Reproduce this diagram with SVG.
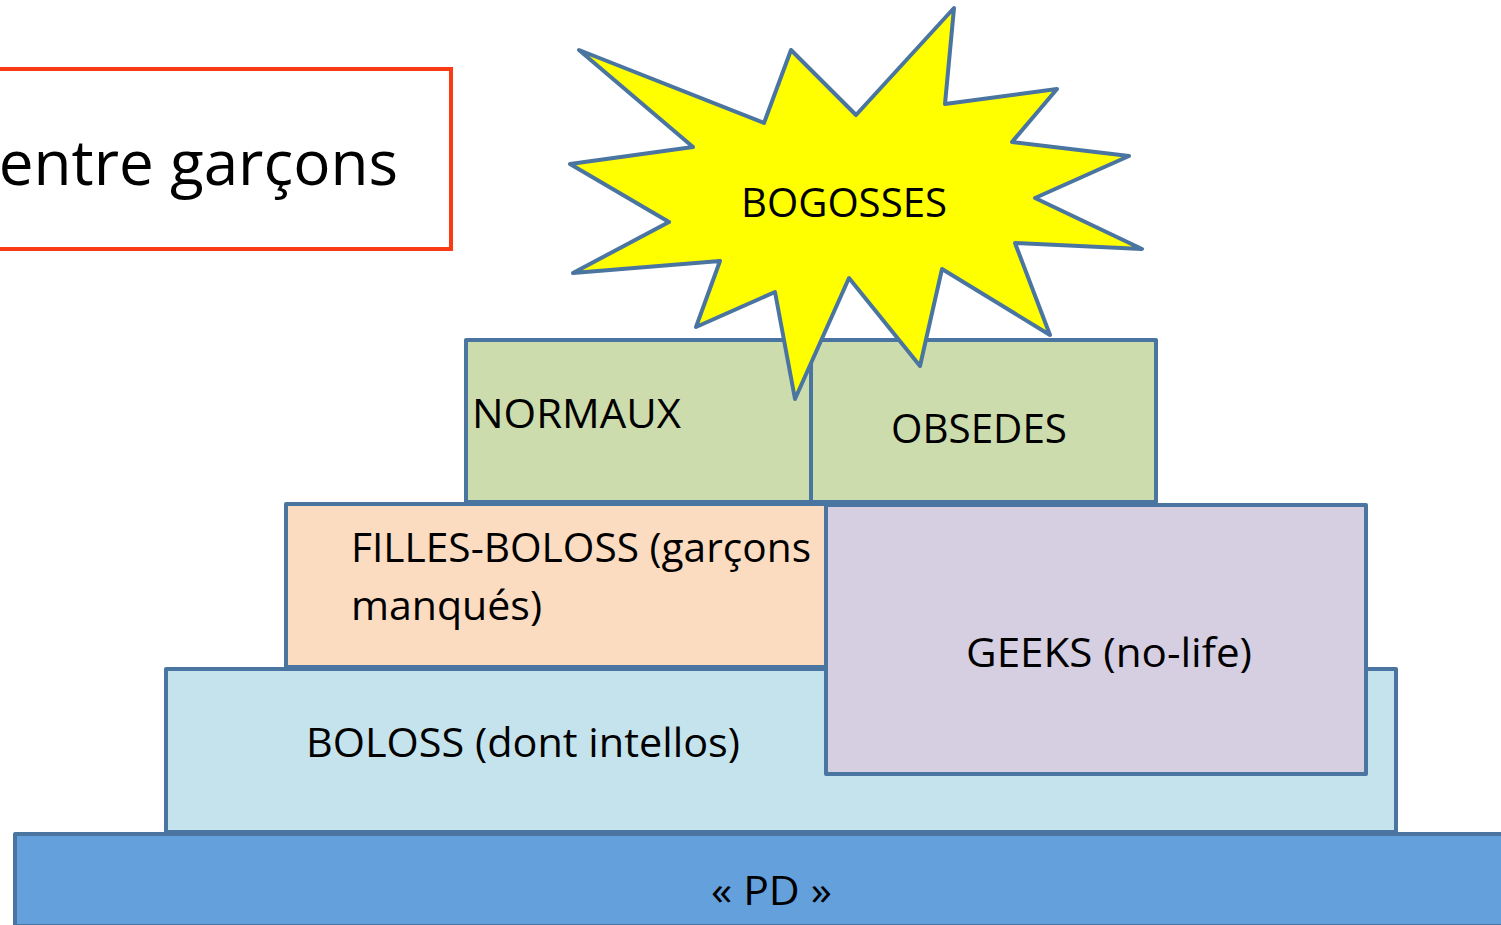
<svg xmlns="http://www.w3.org/2000/svg" width="1501" height="925" viewBox="0 0 1501 925">
<style>
.box{stroke:#4A75A0;stroke-width:4;stroke-linejoin:round}
.t{font-family:"Open Sans","Noto Sans",sans-serif;font-size:40px;fill:#000}
</style>
<rect width="1501" height="925" fill="#fff"/>
<g id="title">
<rect x="-10" y="69" width="461" height="180" fill="#fff" stroke="#FA3A14" stroke-width="4"/>
<text class="t" x="398" y="185" text-anchor="end" style="font-size:62px">entre garçons</text>
</g>
<g id="pd">
<rect class="box" x="15" y="834" width="1500" height="92" fill="#64A0DC"/>
<text class="t" x="711" y="905" textLength="121" lengthAdjust="spacingAndGlyphs">« PD »</text>
</g>
<g id="boloss">
<rect class="box" x="166" y="669" width="1230" height="163" fill="#C4E3EC"/>
<text class="t" x="306" y="757" textLength="434" lengthAdjust="spacingAndGlyphs">BOLOSS (dont intellos)</text>
</g>
<g id="filles">
<rect class="box" x="286" y="504" width="540" height="163" fill="#FBDCC0"/>
<text class="t" x="351" y="562" textLength="460" lengthAdjust="spacingAndGlyphs">FILLES-BOLOSS (garçons</text>
<text class="t" x="351" y="620" textLength="191" lengthAdjust="spacingAndGlyphs">manqués)</text>
</g>
<g id="geeks">
<rect class="box" x="826" y="505" width="540" height="269" fill="#D6CEE1"/>
<text class="t" x="966" y="667" textLength="286" lengthAdjust="spacingAndGlyphs">GEEKS (no-life)</text>
</g>
<g id="normaux">
<rect class="box" x="466" y="340" width="345" height="162" fill="#CDDCAC"/>
<text class="t" x="472" y="428" textLength="209" lengthAdjust="spacingAndGlyphs">NORMAUX</text>
</g>
<g id="obsedes">
<rect class="box" x="811" y="340" width="345" height="162" fill="#CDDCAC"/>
<text class="t" x="891" y="443" textLength="176" lengthAdjust="spacingAndGlyphs">OBSEDES</text>
</g>
<g id="bogosses">
<polygon class="box" fill="#FFFF00" points="579,50 764,123 791,50 856,115 954,8 945,104 1057,89 1012,142 1129,156 1035,198 1142,249 1015,243 1050,335 942,269 920,366 849,278 795,399 775,292 696,327 720,261 573,273 669,222 570,164 693,147"/>
<text class="t" x="741" y="217" textLength="206" lengthAdjust="spacingAndGlyphs">BOGOSSES</text>
</g>
<g id="connectors"></g>
</svg>
